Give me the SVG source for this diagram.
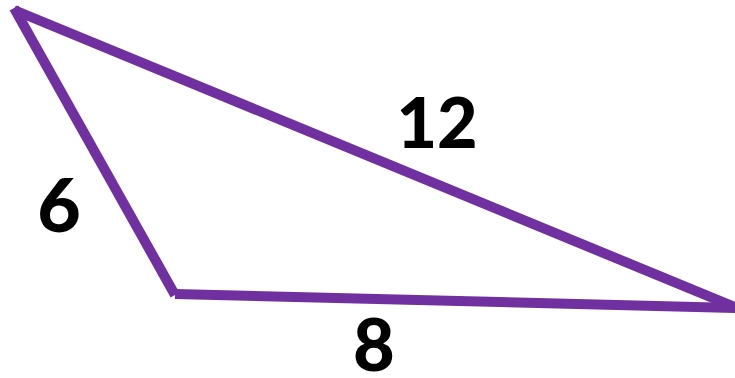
<svg xmlns="http://www.w3.org/2000/svg" width="735" height="378" viewBox="0 0 735 378">
<style>
.edge{stroke:#7030A0;stroke-width:10;fill:none;stroke-linecap:butt}
.lbl{font-family:Lato,"Open Sans",sans-serif;font-weight:900;fill:#000;text-anchor:middle}
</style>
<rect width="735" height="378" fill="#fff"/>
<g id="connectors">
<line class="edge" x1="14" y1="10" x2="737" y2="308"/>
<line class="edge" x1="14" y1="8" x2="175" y2="295"/>
<line class="edge" x1="175" y1="294" x2="737" y2="308"/>
</g>
<g id="label-12"><text class="lbl" x="437" y="148" font-size="70">12</text></g>
<g id="label-6"><text class="lbl" x="59" y="232" font-size="75">6</text></g>
<g id="label-8"><text class="lbl" x="374" y="371" font-size="72">8</text></g>
</svg>
